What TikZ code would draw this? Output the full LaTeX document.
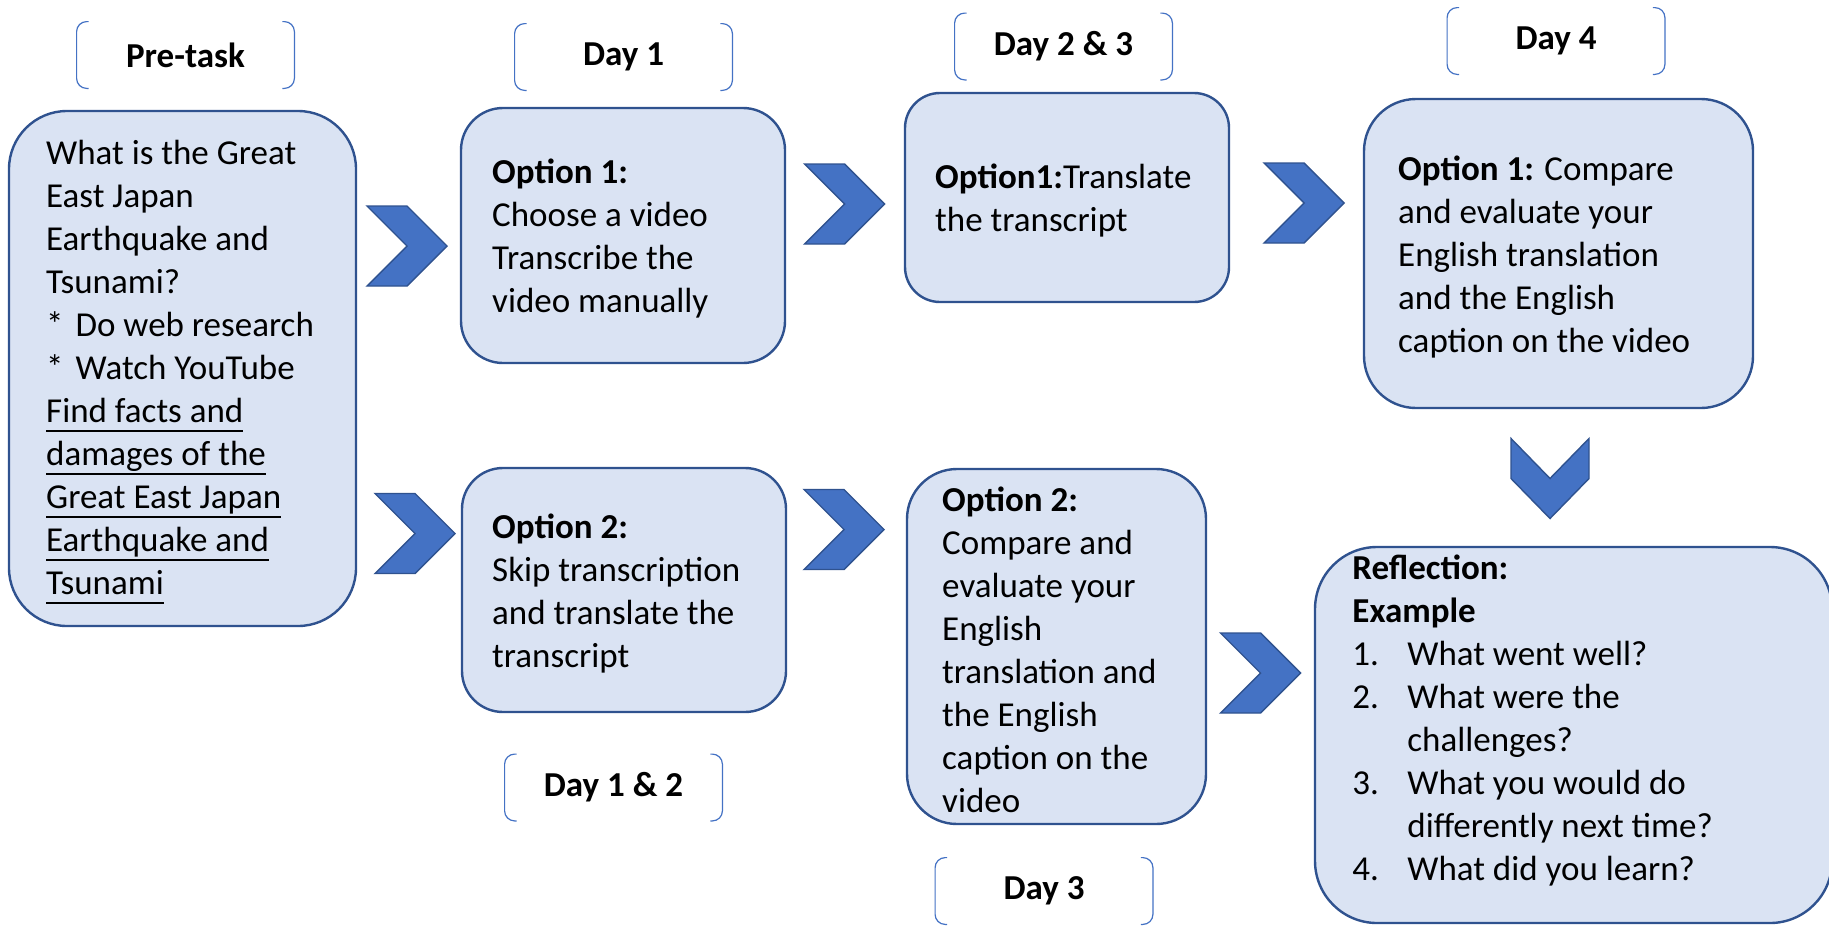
\documentclass[tikz,border=0pt]{standalone}
\usepackage{fontspec}
\setmainfont{Carlito}
\usetikzlibrary{positioning}

\definecolor{boxfill}{HTML}{DAE3F3}
\definecolor{boxline}{HTML}{2F528F}
\definecolor{chevfill}{HTML}{4472C4}

% round brackets drawn round a day tag
\newcommand\brackets[1]{%
  \draw[brk,rounded corners=5pt] ([xshift=6pt]#1.north west) -- (#1.north west) -- (#1.south west) -- ([xshift=6pt]#1.south west);
  \draw[brk,rounded corners=5pt] ([xshift=-6pt]#1.north east) -- (#1.north east) -- (#1.south east) -- ([xshift=-6pt]#1.south east);}
\newcommand\numitem[1]{\makebox[27.5pt][l]{#1}}
\newsavebox\ulbox
\newcommand\uln[1]{\sbox\ulbox{#1}\rlap{\rule[-4.5pt]{\wd\ulbox}{.8pt}}\usebox\ulbox}

\tikzset{
  pics/chevR/.style={code={\draw[chev] (-40,-40) -- (0,-40) -- (40,0) -- (0,40) -- (-40,40) -- (0,0) -- cycle;}},
  pics/chevD/.style={code={\draw[chev] (-39,-40) -- (0,0) -- (39,-40) -- (39,0) -- (0,40) -- (-39,0) -- cycle;}}}

\begin{document}
\begin{tikzpicture}[x=.5pt,y=-.5pt,
  box/.style={draw=boxline,line width=1.2pt,fill=boxfill,inner sep=0pt},
  txt/.style={inner sep=0pt,align=left,yshift=-1.75pt,font=\fontsize{17.5}{21.5}\selectfont},
  tag/.style={minimum width=108.5pt,minimum height=33pt,inner sep=0pt,font=\fontsize{17.5}{21.5}\selectfont\bfseries},
  chev/.style={draw=boxline,line width=.7pt,fill=chevfill,line join=miter},
  brk/.style={draw=chevfill,line width=.6pt}]
\useasboundingbox (0,0) rectangle (1829,926);

% day tags
\node[tag] (pretag) at (185.5,55) {Pre-task};
\node[tag] (day1tag) at (623.5,57) {Day 1};
\node[tag] (day23tag) at (1063.5,46.5) {Day 2 \& 3};
\node[tag] (day4tag) at (1556,41) {Day 4};
\node[tag] (day12tag) at (613.5,787.5) {Day 1 \& 2};
\node[tag] (day3tag) at (1044,891) {Day 3};
\foreach \t in {pretag,day1tag,day23tag,day4tag,day12tag,day3tag}{\brackets{\t}}

% boxes
\node[box,rounded corners=29pt,minimum width=173.5pt,minimum height=257.5pt] (pre) at (182.5,368.5) {};
\node[box,rounded corners=21pt,minimum width=162pt,minimum height=127.5pt] (opt1) at (623,235.5) {};
\node[box,rounded corners=17.5pt,minimum width=162pt,minimum height=104.5pt] (trans) at (1067,197.5) {};
\node[box,rounded corners=26pt,minimum width=194.5pt,minimum height=154.5pt] (cmp1) at (1558.5,253.5) {};
\node[box,rounded corners=20.5pt,minimum width=162pt,minimum height=122pt] (opt2) at (624,590) {};
\node[box,rounded corners=25pt,minimum width=149.5pt,minimum height=177.5pt] (cmp2) at (1056.5,646.5) {};
\node[box,rounded corners=31pt,minimum width=258.5pt,minimum height=188pt] (refl) at (1573.5,735) {};

% texts
\node[txt,right=19pt of pre.west] (pretext) {What is the Great\\East Japan\\Earthquake and\\Tsunami?\\*\hspace{6pt}Do web research\\*\hspace{6pt}Watch YouTube\\\uln{Find facts and}\\\uln{damages of the}\\\uln{Great East Japan}\\\uln{Earthquake and}\\\uln{Tsunami}};
\node[txt,right=16pt of opt1.west] (opt1text) {\textbf{Option 1:}\\Choose a video\\Transcribe the\\video manually};
\node[txt,right=15.5pt of trans.west] (transtext) {\textbf{Option1:}Translate\\the transcript};
\node[txt,right=17.5pt of cmp1.west] (cmp1text) {\textbf{Option 1:} Compare\\and evaluate your\\English translation\\and the English\\caption on the video};
\node[txt,right=15.5pt of opt2.west] (opt2text) {\textbf{Option 2:}\\Skip transcription\\and translate the\\transcript};
\node[txt,right=18pt of cmp2.west] (cmp2text) {\textbf{Option 2:}\\Compare and\\evaluate your\\English\\translation and\\the English\\caption on the\\video};
\node[txt,anchor=west] (refltext) at (1352,717) {\textbf{Reflection:}\\\textbf{Example}\\\numitem{1.}What went well?\\\numitem{2.}What were the\\\numitem{}challenges?\\\numitem{3.}What you would do\\\numitem{}differently next time?\\\numitem{4.}What did you learn?};

% chevrons
\pic at (407,246) {chevR};
\pic at (415,533.5) {chevR};
\pic at (844.5,204) {chevR};
\pic at (844,529.5) {chevR};
\pic at (1304,203) {chevR};
\pic at (1260.5,673) {chevR};
\pic at (1550,478.5) {chevD};
\end{tikzpicture}
\end{document}
